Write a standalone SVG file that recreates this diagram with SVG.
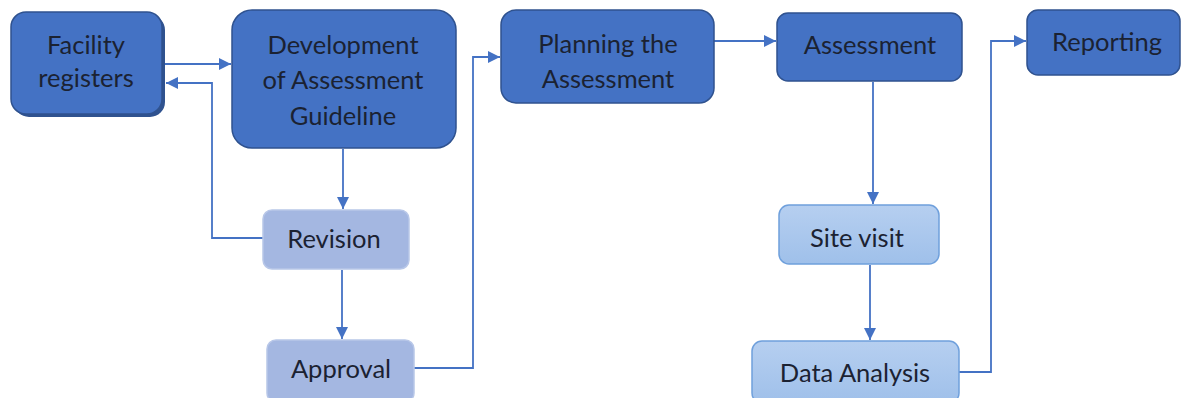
<svg xmlns="http://www.w3.org/2000/svg" width="1182" height="398" viewBox="0 0 1182 398">
  <style>
    .dark { fill: #4472c4; stroke: #2f528f; stroke-width: 1.5; }
    .soft { fill: #a4b7e1; stroke: #b8c7e8; stroke-width: 1.5; }
    .pale { fill: url(#paleFill); stroke: #6fa0dc; stroke-width: 1.5; }
    .label { font-family: Lato, "Open Sans", sans-serif; font-size: 25.5px; fill: #1b2232; text-anchor: middle; }
    .link { fill: none; stroke: #4472c4; stroke-width: 1.8; }
  </style>
  <defs>
    <linearGradient id="paleFill" x1="0" y1="0" x2="0" y2="1">
      <stop offset="0" stop-color="#b6cff0"/>
      <stop offset="1" stop-color="#9fc0ea"/>
    </linearGradient>
    <marker id="arrow" viewBox="0 0 10 10" refX="10" refY="5" markerWidth="12" markerHeight="12" markerUnits="userSpaceOnUse" orient="auto">
      <path d="M0,0 L10,5 L0,10 Z" fill="#4472c4"/>
    </marker>
  </defs>

  <g id="connectors">
    <path class="link" d="M165,64 H231" marker-end="url(#arrow)"/>
    <path class="link" d="M263,238 H212 V83 H166" marker-end="url(#arrow)"/>
    <path class="link" d="M343,149 V209" marker-end="url(#arrow)"/>
    <path class="link" d="M342,270 V339" marker-end="url(#arrow)"/>
    <path class="link" d="M414,368 H473 V57 H500" marker-end="url(#arrow)"/>
    <path class="link" d="M714,41 H776" marker-end="url(#arrow)"/>
    <path class="link" d="M873,82 V204" marker-end="url(#arrow)"/>
    <path class="link" d="M870,265 V340" marker-end="url(#arrow)"/>
    <path class="link" d="M959,372 H991 V41 H1026" marker-end="url(#arrow)"/>
  </g>

  <g id="facility-registers">
    <!-- darker offset edge behind the box -->
    <rect x="14" y="15" width="151" height="102" rx="15" fill="#2f528f"/>
    <rect class="dark" x="11" y="12" width="151" height="102" rx="15"/>
    <text class="label" x="86" y="54">Facility</text>
    <text class="label" x="86" y="87">registers</text>
  </g>

  <g id="development-guideline">
    <rect class="dark" x="232" y="10" width="224" height="138" rx="20"/>
    <text class="label" x="343" y="54">Development</text>
    <text class="label" x="343" y="89">of Assessment</text>
    <text class="label" x="343" y="125">Guideline</text>
  </g>

  <g id="revision">
    <rect class="soft" x="263" y="210" width="146" height="59" rx="9"/>
    <text class="label" x="334" y="248">Revision</text>
  </g>

  <g id="approval">
    <rect class="soft" x="267" y="340" width="147" height="62" rx="9"/>
    <text class="label" x="341" y="378">Approval</text>
  </g>

  <g id="planning">
    <rect class="dark" x="501" y="10" width="213" height="93" rx="15"/>
    <text class="label" x="608" y="53">Planning the</text>
    <text class="label" x="608" y="88">Assessment</text>
  </g>

  <g id="assessment">
    <rect class="dark" x="777" y="13" width="185" height="68" rx="11"/>
    <text class="label" x="870" y="54">Assessment</text>
  </g>

  <g id="site-visit">
    <rect class="pale" x="779" y="205" width="160" height="59" rx="10"/>
    <text class="label" x="857" y="247">Site visit</text>
  </g>

  <g id="data-analysis">
    <rect class="pale" x="752" y="341" width="207" height="62" rx="10"/>
    <text class="label" x="855" y="382">Data Analysis</text>
  </g>

  <g id="reporting">
    <rect class="dark" x="1027" y="10" width="153" height="65" rx="11"/>
    <text class="label" x="1107" y="51">Reporting</text>
  </g>
</svg>
